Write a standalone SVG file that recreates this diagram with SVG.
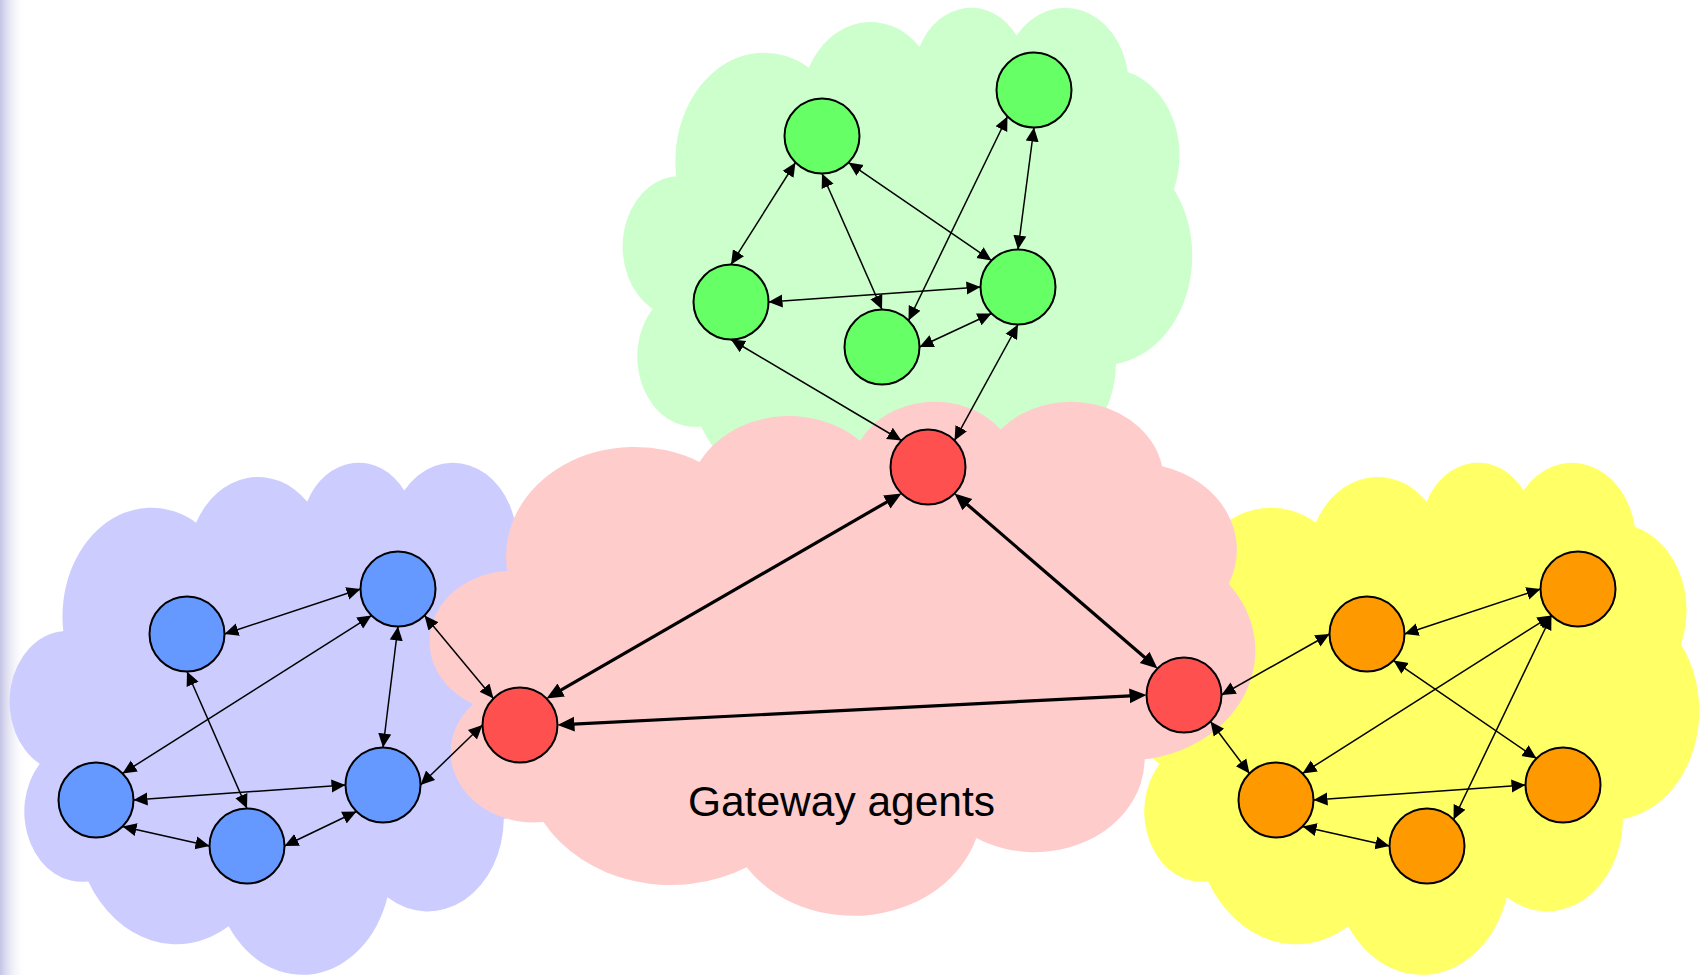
<svg xmlns="http://www.w3.org/2000/svg" xmlns:xlink="http://www.w3.org/1999/xlink" width="1702" height="975" viewBox="0 0 1702 975">
<style>
.node{stroke:#000;stroke-width:2}
.g{fill:#66FF66}.r{fill:#FF5050}.b{fill:#6699FF}.o{fill:#FF9900}
.e{stroke:#000;stroke-width:1.5;fill:none;marker-start:url(#ah);marker-end:url(#ah)}
.t{stroke:#000;stroke-width:3.2;fill:none;marker-start:url(#ahT);marker-end:url(#ahT)}
.lbl{font-family:"Liberation Sans",Arial,sans-serif;font-size:42.5px;fill:#000}
</style>
<defs>
<linearGradient id="edge" x1="0" y1="0" x2="1" y2="0">
<stop offset="0" stop-color="#c4c4e6"/>
<stop offset="1" stop-color="#ffffff" stop-opacity="0"/>
</linearGradient>
<path id="cloud" d="M90.28,332.64 A156.32,212.73 0 0 1 324.19,120.43 A123.45,168.22 0 0 1 519.81,79.44 A101.04,137.62 0 0 1 690.56,57.38 A112.43,152.66 0 0 1 886.97,129.04 A123.45,168.36 0 0 1 967.99,357.83 A156.83,213.43 0 0 1 865.80,699.09 A133.91,182.11 0 0 1 660.97,852.10 A156.30,213.31 0 0 1 381.47,908.89 A178.70,244.05 0 0 1 134.33,821.05 A100.93,136.99 0 0 1 48.89,591.37 A100.58,137.62 0 0 1 90.28,332.64 Z"/>
<marker id="ah" markerUnits="userSpaceOnUse" viewBox="0 -8 16 16" refX="14" refY="0" markerWidth="16" markerHeight="16" orient="auto-start-reverse">
<path d="M0,-6.5 L14,0 L0,6.5 z" fill="#000"/>
</marker>
<marker id="ahT" markerUnits="userSpaceOnUse" viewBox="0 -9 18 18" refX="11" refY="0" markerWidth="18" markerHeight="18" orient="auto-start-reverse">
<path d="M0,-7.5 L17,0 L0,7.5 z" fill="#000"/>
</marker>
</defs>
<rect x="0" y="0" width="1702" height="975" fill="#ffffff"/>
<rect x="0" y="0" width="26" height="975" fill="url(#edge)"/>

<g id="cloud-green"><use xlink:href="#cloud" href="#cloud" fill="#CCFFCC" transform="translate(625,6) scale(0.567,0.512)"/></g>
<g id="cloud-blue"><use xlink:href="#cloud" href="#cloud" fill="#CCCCFF" transform="translate(12,461) scale(0.568,0.512)"/></g>
<g id="cloud-yellow"><use xlink:href="#cloud" href="#cloud" fill="#FFFF66" transform="translate(1132,461) scale(0.567,0.512)"/></g>
<g id="cloud-gateway"><use xlink:href="#cloud" href="#cloud" fill="#FFCCCC" transform="translate(433,400) scale(0.822,0.514)"/>
<text class="lbl" x="841.5" y="816" text-anchor="middle">Gateway agents</text></g>

<g id="connectors">
<line class="e" x1="795.48" y1="162.52" x2="731" y2="264.5"/>
<line class="e" x1="822" y1="173.5" x2="882" y2="309.5"/>
<line class="e" x1="848.52" y1="162.52" x2="991.48" y2="260.48"/>
<line class="e" x1="1007.48" y1="116.52" x2="908.52" y2="320.48"/>
<line class="e" x1="1034" y1="127.5" x2="1018" y2="249.5"/>
<line class="e" x1="768.5" y1="302" x2="980.5" y2="287"/>
<line class="e" x1="919.5" y1="347" x2="991.48" y2="313.52"/>
<line class="e" x1="731" y1="339.5" x2="901.48" y2="440.48"/>
<line class="e" x1="1018" y1="324.5" x2="954.52" y2="440.48"/>
<line class="t" x1="896.28" y1="496.52" x2="551.72" y2="695.48"/>
<line class="t" x1="959.07" y1="497.44" x2="1152.94" y2="664.56"/>
<line class="t" x1="563.49" y1="724.69" x2="1140.51" y2="695.31"/>
<line class="e" x1="224.5" y1="634" x2="360.5" y2="589"/>
<line class="e" x1="371.48" y1="615.52" x2="122.52" y2="773.48"/>
<line class="e" x1="187" y1="671.5" x2="247" y2="808.5"/>
<line class="e" x1="398" y1="626.5" x2="383" y2="747.5"/>
<line class="e" x1="133.5" y1="800" x2="345.5" y2="785"/>
<line class="e" x1="122.52" y1="826.52" x2="209.5" y2="846"/>
<line class="e" x1="284.5" y1="846" x2="356.48" y2="811.52"/>
<line class="e" x1="424.52" y1="615.52" x2="493.48" y2="698.48"/>
<line class="e" x1="420.5" y1="785" x2="482.5" y2="725"/>
<line class="e" x1="1221.5" y1="695" x2="1329.5" y2="634"/>
<line class="e" x1="1210.52" y1="721.52" x2="1249.48" y2="773.48"/>
<line class="e" x1="1404.5" y1="634" x2="1540.5" y2="589"/>
<line class="e" x1="1551.48" y1="615.52" x2="1302.52" y2="773.48"/>
<line class="e" x1="1551.48" y1="615.52" x2="1453.52" y2="819.48"/>
<line class="e" x1="1393.52" y1="660.52" x2="1536.48" y2="758.48"/>
<line class="e" x1="1313.5" y1="800" x2="1525.5" y2="785"/>
<line class="e" x1="1302.52" y1="826.52" x2="1389.5" y2="846"/>
</g>

<g id="G1"><circle class="node g" cx="822" cy="136" r="37.5"/></g>
<g id="G2"><circle class="node g" cx="1034" cy="90" r="37.5"/></g>
<g id="G3"><circle class="node g" cx="731" cy="302" r="37.5"/></g>
<g id="G4"><circle class="node g" cx="1018" cy="287" r="37.5"/></g>
<g id="G5"><circle class="node g" cx="882" cy="347" r="37.5"/></g>
<g id="R1"><circle class="node r" cx="928" cy="467" r="37.5"/></g>
<g id="R2"><circle class="node r" cx="520" cy="725" r="37.5"/></g>
<g id="R3"><circle class="node r" cx="1184" cy="695" r="37.5"/></g>
<g id="B1"><circle class="node b" cx="187" cy="634" r="37.5"/></g>
<g id="B2"><circle class="node b" cx="398" cy="589" r="37.5"/></g>
<g id="B3"><circle class="node b" cx="96" cy="800" r="37.5"/></g>
<g id="B4"><circle class="node b" cx="383" cy="785" r="37.5"/></g>
<g id="B5"><circle class="node b" cx="247" cy="846" r="37.5"/></g>
<g id="O1"><circle class="node o" cx="1367" cy="634" r="37.5"/></g>
<g id="O2"><circle class="node o" cx="1578" cy="589" r="37.5"/></g>
<g id="O3"><circle class="node o" cx="1276" cy="800" r="37.5"/></g>
<g id="O4"><circle class="node o" cx="1563" cy="785" r="37.5"/></g>
<g id="O5"><circle class="node o" cx="1427" cy="846" r="37.5"/></g>
</svg>
